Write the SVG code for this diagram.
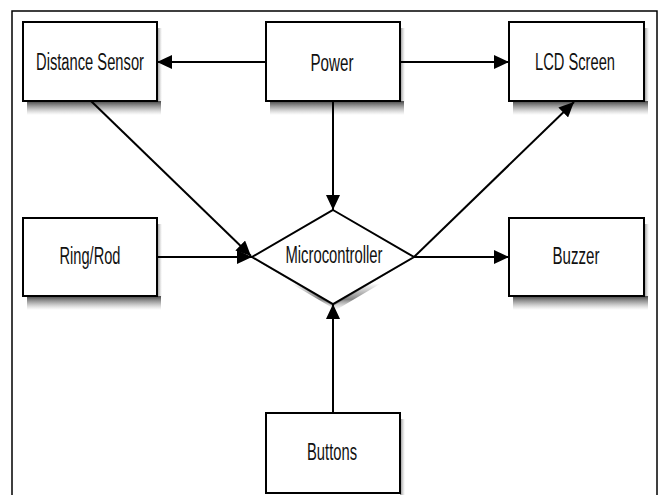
<svg xmlns="http://www.w3.org/2000/svg" width="664" height="495" viewBox="0 0 664 495">
<defs>
<style>
.box{fill:#fff;stroke:#000;stroke-width:2}
.shb{fill:url(#gb)}
.shr{fill:url(#gr)}
.lbl{font-family:"Liberation Sans",Arial,sans-serif;font-size:23px;fill:#111;text-anchor:middle}
.ln{fill:none;stroke:#000;stroke-width:2;marker-end:url(#ah)}
</style>
<linearGradient id="gb" x1="0" y1="0" x2="0" y2="1">
<stop offset="0" stop-color="#222" stop-opacity="0.85"/>
<stop offset="0.5" stop-color="#555" stop-opacity="0.45"/>
<stop offset="1" stop-color="#888" stop-opacity="0"/>
</linearGradient>
<linearGradient id="gr" x1="0" y1="0" x2="1" y2="0">
<stop offset="0" stop-color="#333" stop-opacity="0.6"/>
<stop offset="1" stop-color="#888" stop-opacity="0"/>
</linearGradient>
<linearGradient id="gd" x1="0" y1="0" x2="0" y2="1">
<stop offset="0.5" stop-color="#333" stop-opacity="0"/>
<stop offset="0.8" stop-color="#333" stop-opacity="0.6"/>
<stop offset="1" stop-color="#888" stop-opacity="0"/>
</linearGradient>
<marker id="ah" markerUnits="userSpaceOnUse" markerWidth="16" markerHeight="14" refX="15" refY="7" orient="auto">
<path d="M0,0 L15,7 L0,14 Z" fill="#000"/>
</marker>
</defs>
<rect x="0" y="0" width="664" height="495" fill="#fff"/>
<rect x="12" y="11" width="645" height="500" fill="none" stroke="#000" stroke-width="1.5"/>
<g id="shadows">
<rect class="shb" x="27" y="101" width="134" height="14"/><rect class="shr" x="157" y="28" width="5" height="74"/>
<rect class="shb" x="270" y="101" width="134" height="14"/><rect class="shr" x="400" y="28" width="5" height="74"/>
<rect class="shb" x="513" y="101" width="135" height="14"/><rect class="shr" x="644" y="28" width="5" height="74"/>
<rect class="shb" x="27" y="296" width="134" height="14"/><rect class="shr" x="157" y="224" width="5" height="73"/>
<rect class="shb" x="513" y="296" width="135" height="14"/><rect class="shr" x="644" y="224" width="5" height="73"/>
<rect class="shr" x="400" y="419" width="5" height="76"/>
<path d="M255,262 L336,310 L417,262 L414,257 L333,304 L252,257 Z" fill="url(#gd)"/>
<path d="M254,259 L333,306 L412,259 L414,257 L333,304 L252,257 Z" fill="#444" opacity="0.5"/>
</g>
<g id="connectors">
<line class="ln" x1="266" y1="62" x2="157" y2="62"/>
<line class="ln" x1="400" y1="62" x2="509" y2="62"/>
<line class="ln" x1="333" y1="101" x2="333" y2="210"/>
<line class="ln" x1="91" y1="101" x2="251" y2="256"/>
<line class="ln" x1="157" y1="257" x2="252" y2="257"/>
<line class="ln" x1="414" y1="257" x2="509" y2="257"/>
<line class="ln" x1="414" y1="257" x2="574" y2="102"/>
<line class="ln" x1="333" y1="413" x2="333" y2="304"/>
</g>
<g id="distance-sensor"><rect class="box" x="23" y="22" width="134" height="79"/><text class="lbl" x="90" y="70" textLength="108" lengthAdjust="spacingAndGlyphs">Distance Sensor</text></g>
<g id="power"><rect class="box" x="266" y="22" width="134" height="79"/><text class="lbl" x="332" y="71" textLength="43" lengthAdjust="spacingAndGlyphs">Power</text></g>
<g id="lcd-screen"><rect class="box" x="509" y="22" width="135" height="79"/><text class="lbl" x="575" y="70" textLength="80" lengthAdjust="spacingAndGlyphs">LCD Screen</text></g>
<g id="ring-rod"><rect class="box" x="23" y="218" width="134" height="78"/><text class="lbl" x="90" y="264" textLength="61" lengthAdjust="spacingAndGlyphs">Ring/Rod</text></g>
<g id="microcontroller"><path class="box" d="M333,210 L414,257 L333,304 L252,257 Z"/><text class="lbl" x="334" y="263" textLength="97" lengthAdjust="spacingAndGlyphs">Microcontroller</text></g>
<g id="buzzer"><rect class="box" x="509" y="218" width="135" height="78"/><text class="lbl" x="576" y="264" textLength="47" lengthAdjust="spacingAndGlyphs">Buzzer</text></g>
<g id="buttons"><rect class="box" x="266" y="413" width="134" height="80"/><text class="lbl" x="332" y="460" textLength="50" lengthAdjust="spacingAndGlyphs">Buttons</text></g>
</svg>
